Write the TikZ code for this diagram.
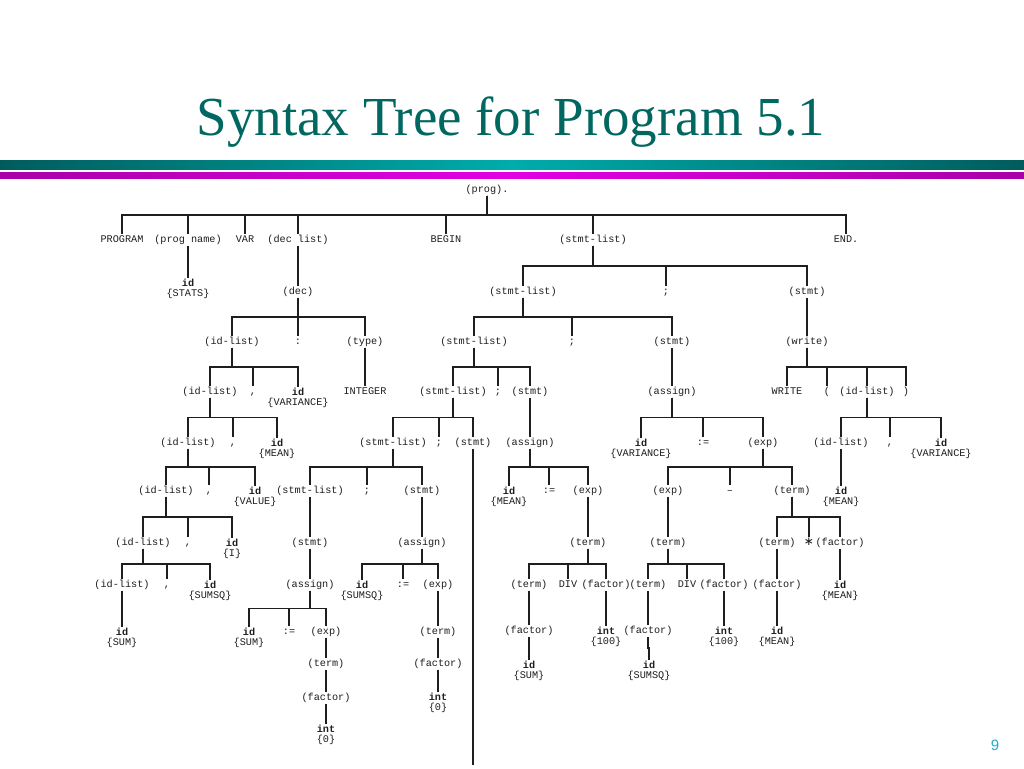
\documentclass[tikz,border=0pt]{standalone}
\usepackage{fontspec}
\setmonofont{Liberation Mono}
\newfontfamily\pagefont{Liberation Sans}
\newfontfamily\titlefont{Liberation Serif}
\newfontfamily\symfont{DejaVu Sans}
\usetikzlibrary{calc}
\definecolor{titlecol}{RGB}{0,104,96}
\definecolor{tealdark}{RGB}{0,92,92}
\definecolor{teallight}{RGB}{0,172,172}
\definecolor{magdark}{RGB}{168,0,168}
\definecolor{maglight}{RGB}{226,0,226}
\definecolor{pagecol}{RGB}{40,170,200}
\definecolor{inkcol}{RGB}{30,30,30}
\begin{document}
\begin{tikzpicture}[x=1pt,y=-1pt,
  lab/.style={font=\ttfamily\fontsize{10.2}{10}\selectfont, text=inkcol, inner sep=1pt, text height=7pt, text depth=2pt},
  idn/.style={font=\ttfamily\fontsize{10.2}{10}\selectfont, text=inkcol, inner sep=1pt, align=center, anchor=north},
  edge/.style={draw=inkcol, line width=1.5pt}]
\useasboundingbox (0,0) rectangle (1024,768);
\fill[white] (0,0) rectangle (1024,768);
% header
\node[anchor=base, text=titlecol, font=\titlefont\fontsize{55}{55}\selectfont, inner sep=0pt] (title) at (511,135) {Syntax Tree for Program 5.1};
\shade[left color=tealdark, right color=tealdark, middle color=teallight] (0,160) rectangle (1024,169);
\shade[left color=magdark, right color=magdark, middle color=maglight] (0,172) rectangle (1024,178);
\node[text=pagecol, font=\pagefont\fontsize{15}{15}\selectfont] (pagenum) at (995,745) {9};
% level 1
\node[lab] (prog) at (487,190) {(prog).};
\node[lab] (pgm) at (122,240) {PROGRAM};
\node[lab] (pname) at (188,240) {(prog name)};
\node[lab] (var) at (245,240) {VAR};
\node[lab] (declist) at (298,240) {(dec list)};
\node[lab] (begin) at (446,240) {BEGIN};
\node[lab] (sl1) at (593,240) {(stmt-list)};
\node[lab] (endn) at (846,240) {END.};
% declarations
\node[idn] (idstats) at (188,277.5) {\textbf{id}\\\{STATS\}};
\node[lab] (dec) at (298,292) {(dec)};
\node[lab] (idl1) at (232,342) {(id-list)};
\node[lab] (colon) at (298,342) {:};
\node[lab] (type) at (365,342) {(type)};
\node[lab] (integer) at (365,392) {INTEGER};
\node[lab] (idl2) at (210,392) {(id-list)};
\node[lab] (c1) at (253,392) {,};
\node[idn] (idvar1) at (298,386.5) {\textbf{id}\\\{VARIANCE\}};
\node[lab] (idl3) at (188,443) {(id-list)};
\node[lab] (c2) at (233,443) {,};
\node[idn] (idmean1) at (277,437.5) {\textbf{id}\\\{MEAN\}};
\node[lab] (idl4) at (166,491) {(id-list)};
\node[lab] (c3) at (209,491) {,};
\node[idn] (idvalue) at (255,485.5) {\textbf{id}\\\{VALUE\}};
\node[lab] (idl5) at (143,543) {(id-list)};
\node[lab] (c4) at (188,543) {,};
\node[idn] (idi) at (232,537.5) {\textbf{id}\\\{I\}};
\node[lab] (idl6) at (122,585) {(id-list)};
\node[lab] (c5) at (167,585) {,};
\node[idn] (idsumsq1) at (210,579.5) {\textbf{id}\\\{SUMSQ\}};
\node[idn] (idsum1) at (122,626.5) {\textbf{id}\\\{SUM\}};
% statements, right part
\node[lab] (sl2) at (523,292) {(stmt-list)};
\node[lab] (s1) at (666,292) {;};
\node[lab] (st1) at (807,292) {(stmt)};
\node[lab] (write) at (807,342) {(write)};
\node[lab] (wr) at (787,392) {WRITE};
\node[lab] (lp) at (827,392) {(};
\node[lab] (idlw) at (867,392) {(id-list)};
\node[lab] (rp) at (906,392) {)};
\node[lab] (idlw2) at (841,443) {(id-list)};
\node[lab] (c6) at (890,443) {,};
\node[idn] (idvar3) at (941,437.5) {\textbf{id}\\\{VARIANCE\}};
\node[idn] (idmean4) at (841,485.5) {\textbf{id}\\\{MEAN\}};
% VARIANCE assignment
\node[lab] (sl3) at (474,342) {(stmt-list)};
\node[lab] (s2) at (572,342) {;};
\node[lab] (st2) at (672,342) {(stmt)};
\node[lab] (as1) at (672,392) {(assign)};
\node[idn] (idvar2) at (641,437.5) {\textbf{id}\\\{VARIANCE\}};
\node[lab] (ass1) at (703,443) {:=};
\node[lab] (exp1) at (763,443) {(exp)};
\node[lab] (exp2) at (668,491) {(exp)};
\node[lab] (minus) at (730,491) {–};
\node[lab] (term1) at (792,491) {(term)};
\node[lab] (term2) at (668,543) {(term)};
\node[lab] (term3) at (648,585) {(term)};
\node[lab] (div2) at (687,585) {DIV};
\node[lab] (fac2) at (724,585) {(factor)};
\node[lab] (fac3) at (648,631) {(factor)};
\node[idn] (idsumsq3) at (649,659.5) {\textbf{id}\\\{SUMSQ\}};
\node[idn] (int100b) at (724,625.5) {\textbf{int}\\\{100\}};
\node[lab] (term4) at (777,543) {(term)};
\node[lab] (star) at (809,543) {{\symfont\fontsize{12}{12}\selectfont ∗}};
\node[lab] (fac4) at (840,543) {(factor)};
\node[lab] (fac5) at (777,585) {(factor)};
\node[idn] (idmean5) at (777,625.5) {\textbf{id}\\\{MEAN\}};
\node[idn] (idmean6) at (840,579.5) {\textbf{id}\\\{MEAN\}};
% MEAN assignment
\node[lab] (sl4) at (453,392) {(stmt-list)};
\node[lab] (s3) at (498,392) {;};
\node[lab] (st3) at (530,392) {(stmt)};
\node[lab] (as2) at (530,443) {(assign)};
\node[idn] (idmean2) at (509,485.5) {\textbf{id}\\\{MEAN\}};
\node[lab] (ass2) at (549,491) {:=};
\node[lab] (exp3) at (588,491) {(exp)};
\node[lab] (term5) at (588,543) {(term)};
\node[lab] (term6) at (529,585) {(term)};
\node[lab] (div1) at (568,585) {DIV};
\node[lab] (fac6) at (606,585) {(factor)};
\node[lab] (fac7) at (529,631) {(factor)};
\node[idn] (idsum3) at (529,659.5) {\textbf{id}\\\{SUM\}};
\node[idn] (int100a) at (606,625.5) {\textbf{int}\\\{100\}};
% SUM / SUMSQ initialisation
\node[lab] (sl5) at (393,443) {(stmt-list)};
\node[lab] (s4) at (439,443) {;};
\node[lab] (st4) at (473,443) {(stmt)};
\coordinate (bottom) at (473,765);
\node[lab] (sl6) at (310,491) {(stmt-list)};
\node[lab] (s5) at (367,491) {;};
\node[lab] (st5) at (422,491) {(stmt)};
\node[lab] (st6) at (310,543) {(stmt)};
\node[lab] (as3) at (310,585) {(assign)};
\node[idn] (idsum2) at (249,626.5) {\textbf{id}\\\{SUM\}};
\node[lab] (ass3) at (289,632) {:=};
\node[lab] (exp4) at (326,632) {(exp)};
\node[lab] (term7) at (326,664) {(term)};
\node[lab] (fac8) at (326,698) {(factor)};
\node[idn] (int0a) at (326,723.5) {\textbf{int}\\\{0\}};
\node[lab] (as4) at (422,543) {(assign)};
\node[idn] (idsumsq2) at (362,579.5) {\textbf{id}\\\{SUMSQ\}};
\node[lab] (ass4) at (403,585) {:=};
\node[lab] (exp5) at (438,585) {(exp)};
\node[lab] (term8) at (438,632) {(term)};
\node[lab] (fac9) at (438,664) {(factor)};
\node[idn] (int0b) at (438,691.5) {\textbf{int}\\\{0\}};
% connectors
\foreach \p/\c in {prog/pgm, prog/pname, prog/var, prog/declist, prog/begin, prog/sl1, prog/endn,
  pname/idstats, declist/dec, dec/idl1, dec/colon, dec/type, type/integer,
  idl1/idl2, idl1/c1, idl1/idvar1, idl2/idl3, idl2/c2, idl2/idmean1,
  idl3/idl4, idl3/c3, idl3/idvalue, idl4/idl5, idl4/c4, idl4/idi,
  idl5/idl6, idl5/c5, idl5/idsumsq1, idl6/idsum1,
  sl1/sl2, sl1/s1, sl1/st1, st1/write, write/wr, write/lp, write/idlw, write/rp,
  idlw/idlw2, idlw/c6, idlw/idvar3, idlw2/idmean4,
  sl2/sl3, sl2/s2, sl2/st2, st2/as1, as1/idvar2, as1/ass1, as1/exp1,
  exp1/exp2, exp1/minus, exp1/term1, exp2/term2, term2/term3, term2/div2, term2/fac2,
  term3/fac3, fac3/idsumsq3, fac2/int100b, term1/term4, term1/star, term1/fac4,
  term4/fac5, fac5/idmean5, fac4/idmean6,
  sl3/sl4, sl3/s3, sl3/st3, st3/as2, as2/idmean2, as2/ass2, as2/exp3, exp3/term5,
  term5/term6, term5/div1, term5/fac6, term6/fac7, fac7/idsum3, fac6/int100a,
  sl4/sl5, sl4/s4, sl4/st4, sl5/sl6, sl5/s5, sl5/st5, sl6/st6, st6/as3,
  as3/idsum2, as3/ass3, as3/exp4, exp4/term7, term7/fac8, fac8/int0a,
  st5/as4, as4/idsumsq2, as4/ass4, as4/exp5, exp5/term8, term8/fac9, fac9/int0b}
  \draw[edge] (\p.south) |- ($(\p.south)!.5!(\c.north)$) -| (\c.north);
\draw[edge] (st4.south) -- (bottom);
\end{tikzpicture}
\end{document}
